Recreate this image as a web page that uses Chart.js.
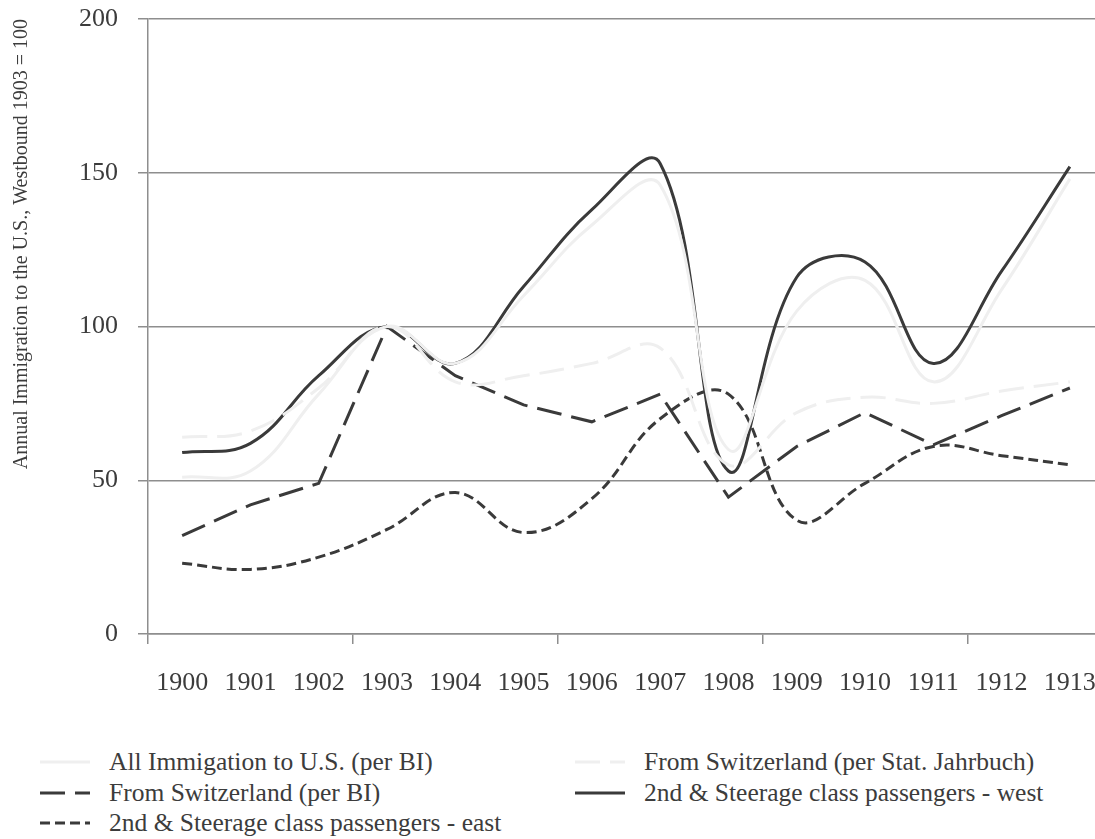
<!DOCTYPE html>
<html>
<head>
<meta charset="utf-8">
<script src="https://cdn.jsdelivr.net/npm/chart.js@4.4.1/dist/chart.umd.min.js"></script>
<style>
	body { margin: 0; background: #fff; font-family: 'Liberation Serif', serif; color: #3c3c3c; }
	#wrap { position: relative; width: 1095px; height: 839px; overflow: hidden; }
	#box { position: absolute; left: 0; top: 0; width: 1104px; height: 700px; }
	#legend { position: absolute; left: 40px; top: 747px; display: grid; grid-template-columns: 535px 480px; }
	.item { display: flex; align-items: center; height: 30.5px; font-size: 25.5px; white-space: nowrap; }
	.item svg { margin-right: 19px; flex: none; }
</style>
</head>
<body>
<div id="wrap">
	<div id="box"><canvas id="chartCanvas"></canvas></div>
	<div id="legend"></div>
</div>
<script>
const years = ['1900', '1901', '1902', '1903', '1904', '1905', '1906', '1907', '1908', '1909', '1910', '1911', '1912', '1913'];
const allImmigrationBI = [51, 53, 78, 100, 88, 110, 133, 146, 60, 105, 115, 82, 112, 148];
const swissJahrbuch = [64, 66, 80, 100, 82, 84, 88, 93, 55, 72, 77, 75, 79, 82];
const swissBI = [32, 42, 49, 100, 84, 74.5, 69, 78, 44.5, 61, 72, 61.5, 71, 80];
const passengersWest = [59, 62, 84, 100, 88, 113, 138, 153, 53, 116, 121, 88, 118, 152];
const passengersEast = [23, 21, 25, 34, 46, 33, 44, 70, 78, 37, 49, 61, 58, 55];
const yTicks = [0, 50, 100, 150, 200];

const ink = '#3a3a3a';
const faint = '#efefef';
const gridGrey = '#8e8e8e';
const serif = 'Liberation Serif';

const datasets = [
	{ label: 'All Immigation to U.S. (per BI)', data: allImmigrationBI, borderColor: faint, borderDash: [], tension: 0.4 },
	{ label: 'From Switzerland (per Stat. Jahrbuch)', data: swissJahrbuch, borderColor: faint, borderDash: [25, 10], tension: 0.4 },
	{ label: 'From Switzerland (per BI)', data: swissBI, borderColor: ink, borderDash: [25, 10], tension: 0 },
	{ label: '2nd & Steerage class passengers - west', data: passengersWest, borderColor: ink, borderDash: [], tension: 0.4 },
	{ label: '2nd & Steerage class passengers - east', data: passengersEast, borderColor: ink, borderDash: [10, 5], tension: 0.4 }
].map(d => Object.assign({ borderWidth: 3, pointRadius: 0, fill: false, borderCapStyle: 'butt' }, d));

function renderLegend(chart) {
	const legend = document.getElementById('legend');
	legend.innerHTML = '';
	chart.data.datasets.forEach(ds => {
		const item = document.createElement('div');
		item.className = 'item';
		item.innerHTML = `
			<svg width="50" height="8"><line x1="0" y1="4" x2="50" y2="4" stroke="${ds.borderColor}" stroke-width="3"
				stroke-dasharray="${ds.borderDash.length ? ds.borderDash.join(' ') : 'none'}"/></svg>
			<span>${ds.label.replace('&', '&amp;')}</span>
		`;
		legend.appendChild(item);
	});
}

const ctx = document.getElementById('chartCanvas').getContext('2d');
const chart = new Chart(ctx, {
	type: 'line',
	data: { labels: years, datasets },
	options: {
		responsive: true,
		maintainAspectRatio: false,
		animation: false,
		layout: { padding: { top: 19, right: 0, bottom: 0, left: 0 } },
		plugins: { legend: { display: false }, tooltip: { enabled: false } },
		scales: {
			x: {
				offset: true,
				grid: {
					offset: true,
					drawOnChartArea: false,
					tickLength: 10,
					lineWidth: 1.5,
					color: c => [0, 3, 6, 9, 12].includes(c.index) ? gridGrey : 'rgba(0,0,0,0)'
				},
				border: { color: gridGrey, width: 1.5 },
				ticks: { color: '#3c3c3c', font: { family: serif, size: 26 }, padding: 24, maxRotation: 0, autoSkip: false },
				afterFit: s => { s.height = 66; s.paddingLeft = 0; s.paddingRight = 0; }
			},
			y: {
				min: 0,
				max: 200,
				afterBuildTicks: s => { s.ticks = yTicks.map(v => ({ value: v })); },
				grid: { color: gridGrey, lineWidth: 1.5, tickLength: 10 },
				border: { color: gridGrey, width: 1.5 },
				ticks: { color: '#3c3c3c', font: { family: serif, size: 26 }, padding: 20 },
				title: {
					display: true,
					text: 'Annual Immigration to the U.S., Westbound 1903 = 100',
					align: 'end',
					color: '#3c3c3c',
					font: { family: serif, size: 20 },
					padding: { top: 10, bottom: 0 }
				},
				afterFit: s => { s.width = 148; s.paddingTop = 0; s.paddingBottom = 0; }
			}
		}
	}
});
renderLegend(chart);
</script>
</body>
</html>
